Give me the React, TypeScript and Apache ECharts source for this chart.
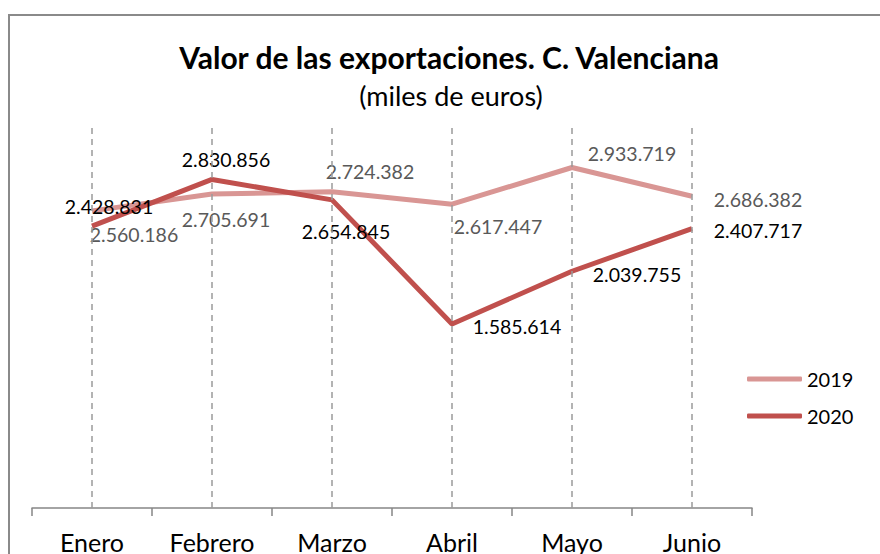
import React, { useEffect, useRef } from "react";
import * as echarts from "echarts";

const categories = ["Enero", "Febrero", "Marzo", "Abril", "Mayo", "Junio"];
const values2019 = [2560186, 2705691, 2724382, 2617447, 2933719, 2686382];
const values2020 = [2428831, 2830856, 2654845, 1585614, 2039755, 2407717];
const seriesNames = ["2019", "2020"];

// label offsets (layout only)
const offsets2019 = [[42, 24], [14, 26], [38, -20], [46, 22], [60, -14], [66, 3]];
const offsets2020 = [[17, -20], [14, -20], [14, 32], [65, 3], [65, 3], [66, 2]];

const FONT = "Lato, 'Open Sans', sans-serif";

const fmt = (v: number) => {
  const s = String(Math.round(v));
  return s.replace(/\B(?=(\d{3})+(?!\d))/g, ".");
};

export default function App() {
  const ref = useRef<HTMLDivElement>(null);
  useEffect(() => {
    if (!ref.current) return;
    const chart = echarts.init(ref.current, null, { renderer: "svg" });
    const mk = (vals: number[], offs: number[][], color: string) =>
      vals.map((v, i) => ({
        value: v,
        label: { offset: offs[i], color },
      }));
    chart.setOption({
      animation: false,
      backgroundColor: "#ffffff",
      textStyle: { fontFamily: FONT },
      graphic: [
        {
          type: "rect",
          shape: { x: 9, y: 15, width: 900, height: 600 },
          style: { fill: "none", stroke: "#8a8a8a", lineWidth: 2 },
          silent: true,
        },
        {
          type: "text",
          x: 449,
          y: 57,
          style: {
            text: "Valor de las exportaciones. C. Valenciana",
            fontFamily: FONT,
            fontWeight: "bold",
            fontSize: 30,
            fill: "#000",
            textAlign: "center",
            textVerticalAlign: "middle",
          },
        },
        {
          type: "text",
          x: 451,
          y: 95,
          style: {
            text: "(miles de euros)",
            fontFamily: FONT,
            fontSize: 27,
            fill: "#000",
            textAlign: "center",
            textVerticalAlign: "middle",
          },
        },
      ],
      grid: { left: 32, right: 128, top: 125, bottom: 46 },
      legend: {
        orient: "vertical",
        left: 742,
        top: 364,
        itemWidth: 55,
        itemHeight: 5,
        itemGap: 17,
        icon: "roundRect",
        textStyle: { fontSize: 20, color: "#000", fontFamily: FONT },
        data: seriesNames,
      },
      xAxis: {
        type: "category",
        data: categories,
        axisLine: { lineStyle: { color: "#868686", width: 1.5 } },
        axisTick: { show: true, length: 8, lineStyle: { color: "#868686", width: 1.5 } },
        axisLabel: { fontSize: 25, color: "#000", margin: 21, fontFamily: FONT },
        splitLine: { show: false },
      },
      yAxis: {
        type: "value",
        min: 0,
        max: 3300000,
        show: false,
        splitLine: { show: false },
      },
      series: [
        {
          name: seriesNames[0],
          type: "line",
          z: 2,
          data: mk(values2019, offsets2019, "#595959"),
          symbol: "circle",
          symbolSize: 0.1,
          itemStyle: { color: "#D99694" },
          lineStyle: { color: "#D99694", width: 5 },
          label: {
            show: true,
            position: "inside",
            fontSize: 19.5,
            fontFamily: FONT,
            formatter: (p: any) => fmt(p.value),
          },
          markLine: {
            silent: true,
            symbol: "none",
            label: { show: false },
            lineStyle: { color: "#9a9a9a", type: [6, 5], width: 1.5 },
            data: categories.map((c) => ({ xAxis: c })),
          },
        },
        {
          name: seriesNames[1],
          type: "line",
          z: 3,
          data: mk(values2020, offsets2020, "#000000"),
          symbol: "circle",
          symbolSize: 0.1,
          itemStyle: { color: "#C0504D" },
          lineStyle: { color: "#C0504D", width: 5 },
          label: {
            show: true,
            position: "inside",
            fontSize: 19.5,
            fontFamily: FONT,
            formatter: (p: any) => fmt(p.value),
          },
        },
      ],
    });
    return () => chart.dispose();
  }, []);
  return (
    <div
      ref={ref}
      style={{ position: "fixed", left: 0, top: 0, width: 880, height: 554 }}
    />
  );
}
